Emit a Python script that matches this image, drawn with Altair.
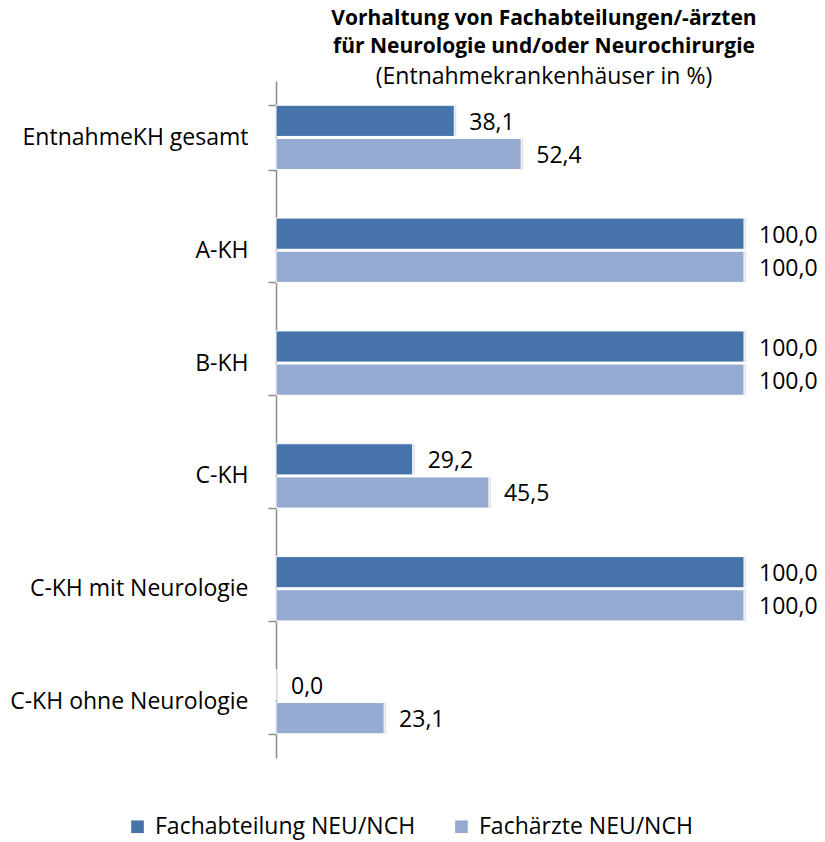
import altair as alt
import pandas as pd

categories = ["EntnahmeKH gesamt", "A-KH", "B-KH", "C-KH",
              "C-KH mit Neurologie", "C-KH ohne Neurologie"]
series = ["Fachabteilung NEU/NCH", "Fachärzte NEU/NCH"]
fachabteilung = [38.1, 100.0, 100.0, 29.2, 100.0, 0.0]
fachaerzte = [52.4, 100.0, 100.0, 45.5, 100.0, 23.1]
colors = ["#4673A9", "#95AAD1"]

rows = []
for i, c in enumerate(categories):
    for s, vals in zip(series, [fachabteilung, fachaerzte]):
        v = vals[i]
        rows.append({"cat": c, "series": s, "value": v,
                     "label": f"{v:.1f}".replace(".", ",")})
df = pd.DataFrame(rows)

FONT = "Open Sans"
FS = 23

y_enc = alt.Y("cat:N", sort=categories,
              scale=alt.Scale(paddingInner=0.43, paddingOuter=0.215),
              axis=alt.Axis(title=None, tickBand="extent", labelFontSize=FS,
                            labelFont=FONT, labelColor="black", labelPadding=20,
                            labelLimit=400,
                            domainColor="#8c8c8c", tickColor="#8c8c8c",
                            domainWidth=1.5, tickWidth=1.5, tickSize=8))
yoff = alt.YOffset("series:N", sort=series, scale=alt.Scale(paddingInner=0.06))
x_enc = alt.X("value:Q", scale=alt.Scale(domain=[0, 100]), axis=None)

base = alt.Chart(df).encode(y=y_enc, yOffset=yoff, x=x_enc)

shadow = base.mark_bar(color="#000000", opacity=0.12, xOffset=2, x2Offset=3,
                       yOffset=3, y2Offset=3)

bars = base.mark_bar(stroke="white", strokeWidth=1).encode(
    color=alt.Color("series:N", sort=series,
                    scale=alt.Scale(domain=series, range=colors),
                    legend=alt.Legend(title=None, orient="none", direction="horizontal",
                                      legendX=-150, legendY=734, symbolType="square",
                                      symbolSize=160, symbolStrokeWidth=0,
                                      labelFontSize=FS, labelFont=FONT,
                                      labelLimit=500, labelOffset=6,
                                      labelColor="black", columnPadding=34))
)

labels = base.mark_text(align="left", baseline="middle", dx=15, dy=2,
                        fontSize=FS, font=FONT, color="black").encode(
    text="label:N")

chart = alt.layer(shadow, bars, labels).properties(
    width=468, height=677,
    autosize=alt.AutoSizeParams(type="none"),
    padding={"left": 268, "top": 73, "right": 73, "bottom": 84},
    title=alt.TitleParams(
        text=["Vorhaltung von Fachabteilungen/-ärzten",
              "für Neurologie und/oder Neurochirurgie"],
        subtitle=["(Entnahmekrankenhäuser in %)"],
        font=FONT, fontSize=21, fontWeight="bold", color="black",
        subtitleFont=FONT, subtitleFontSize=FS, subtitleColor="black",
        subtitleFontWeight="normal", lineHeight=28, subtitleLineHeight=28,
        subtitlePadding=9, anchor="middle", dx=34, offset=-19)
).configure_view(stroke=None)

chart.save("out.html", embed_options={"renderer": "svg", "actions": False})
